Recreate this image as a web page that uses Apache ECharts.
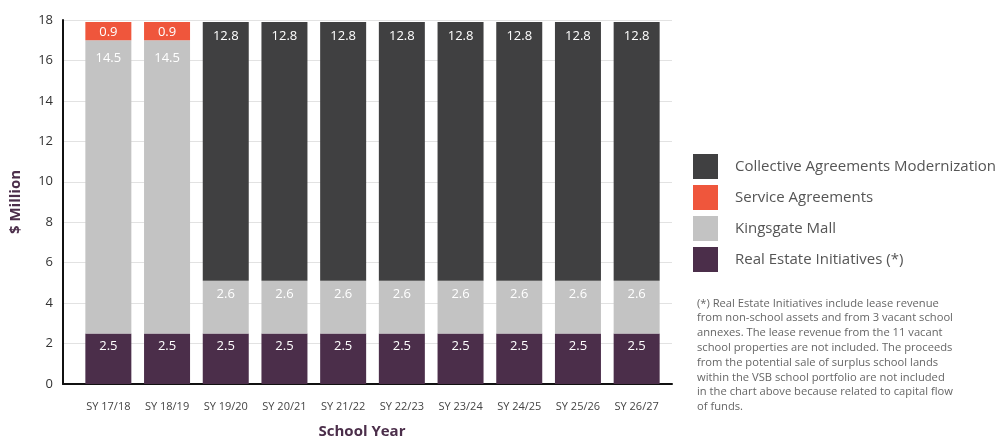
<!DOCTYPE html>
<html>
<head>
<meta charset="utf-8">
<script src="https://cdn.jsdelivr.net/npm/echarts@6/dist/echarts.min.js"></script>
<style>
html,body{margin:0;padding:0;background:#fff;}
#chart{width:1004px;height:439px;}
</style>
</head>
<body>
<div id="chart"></div>
<script>
const categories = ['SY 17/18','SY 18/19','SY 19/20','SY 20/21','SY 21/22','SY 22/23','SY 23/24','SY 24/25','SY 25/26','SY 26/27'];
const realEstate = [2.5,2.5,2.5,2.5,2.5,2.5,2.5,2.5,2.5,2.5];
const kingsgate = [14.5,14.5,2.6,2.6,2.6,2.6,2.6,2.6,2.6,2.6];
const service = [0.9,0.9,null,null,null,null,null,null,null,null];
const collective = [null,null,12.8,12.8,12.8,12.8,12.8,12.8,12.8,12.8];
const yTicks = [0,2,4,6,8,10,12,14,16,18];
const seriesNames = ['Real Estate Initiatives (*)','Kingsgate Mall','Service Agreements','Collective Agreements Modernization'];
const footnote = '(*) Real Estate Initiatives include lease revenue\nfrom non-school assets and from 3 vacant school\nannexes. The lease revenue from the 11 vacant\nschool properties are not included. The proceeds\nfrom the potential sale of surplus school lands\nwithin the VSB school portfolio are not included\nin the chart above because related to capital flow\nof funds.';

const FONT = '"Open Sans", "Noto Sans", sans-serif';
const chart = echarts.init(document.getElementById('chart'));

function lbl(dist){
  return {show:true, position:'insideTop', distance:dist, color:'#fff', fontSize:13, fontFamily:FONT,
    formatter: p => (p.value==null ? '' : p.value.toFixed(1))};
}

const option = {
  animation:false,
  backgroundColor:'#fff',
  grid:[
    {left:63, top:20, width:609, height:364},
    {left:79, top:20, width:587, height:364}
  ],
  xAxis:[
    {gridIndex:0, type:'value', min:0, max:1, axisLine:{show:true, onZero:false, lineStyle:{color:'#111', width:2}},
     axisTick:{show:false}, axisLabel:{show:false}, splitLine:{show:false}},
    {gridIndex:1, type:'category', data:categories, axisLine:{show:false}, axisTick:{show:false},
     axisLabel:{margin:17, color:'#444', fontSize:11, fontFamily:FONT}}
  ],
  yAxis:[
    {gridIndex:0, type:'value', min:yTicks[0], max:yTicks[yTicks.length-1], interval:2,
     axisLine:{show:true, lineStyle:{color:'#111', width:2}}, axisTick:{show:false},
     axisLabel:{color:'#333', fontSize:13, fontFamily:FONT, margin:10},
     splitLine:{show:true, lineStyle:{color:'#e2e2e2', width:1}},
     name:'$ Million', nameLocation:'middle', nameGap:40, nameRotate:90,
     nameTextStyle:{color:'#4b2e4a', fontSize:15, fontWeight:'bold', fontFamily:FONT}},
    {gridIndex:1, type:'value', min:0, max:18, show:false}
  ],
  legend:{
    orient:'vertical', left:693, top:154, padding:0, itemWidth:25, itemHeight:25, itemGap:6, icon:'rect',
    data:[seriesNames[3], seriesNames[2], seriesNames[1], seriesNames[0]],
    textStyle:{color:'#555', fontSize:15, fontFamily:FONT, padding:[2,0,0,12]}
  },
  graphic:[
    {type:'text', left:697, top:296, style:{text:footnote, fill:'#666', fontSize:11.2, lineHeight:14.8, fontFamily:FONT}},
    {type:'text', x:362, y:432, style:{text:'School Year', fill:'#4b2e4a', fontSize:15, fontWeight:'bold', fontFamily:FONT, align:'center', verticalAlign:'middle'}}
  ],
  series:[
    {name:seriesNames[0], type:'bar', stack:'t', xAxisIndex:1, yAxisIndex:1, barWidth:46,
     itemStyle:{color:'#4b2e4a'}, label:lbl(6), data:realEstate},
    {name:seriesNames[1], type:'bar', stack:'t', xAxisIndex:1, yAxisIndex:1, barWidth:46,
     itemStyle:{color:'#c3c3c3'}, label:lbl(6.5),
     data:kingsgate.map(v => ({value:v, label:{distance: v>10 ? 12 : 6.5}}))},
    {name:seriesNames[2], type:'bar', stack:'t', xAxisIndex:1, yAxisIndex:1, barWidth:46,
     itemStyle:{color:'#ef563c'}, label:lbl(3.5), data:service},
    {name:seriesNames[3], type:'bar', stack:'t', xAxisIndex:1, yAxisIndex:1, barWidth:46,
     itemStyle:{color:'#404041'}, label:lbl(7.5), data:collective}
  ]
};
chart.setOption(option);
</script>
</body>
</html>
